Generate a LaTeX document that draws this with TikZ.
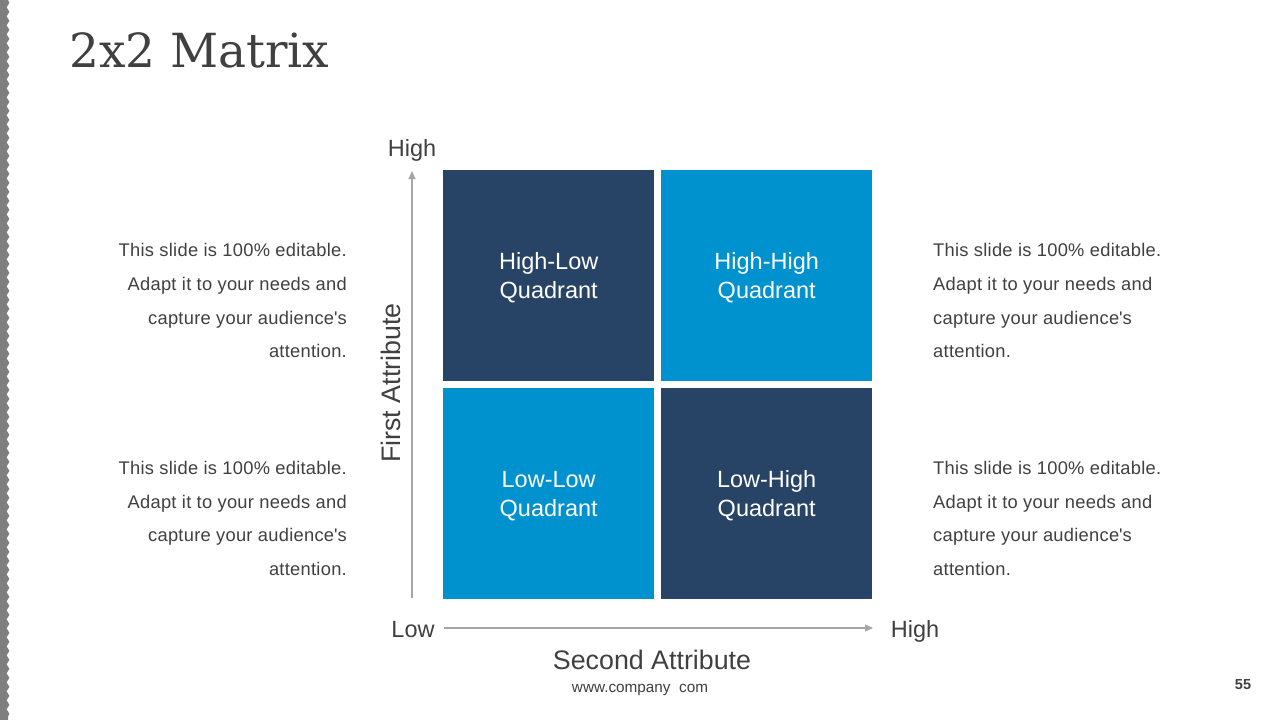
\documentclass[tikz,border=0pt]{standalone}
\usepackage{fontspec}
\setmainfont{Liberation Sans}
\newfontfamily\titlefont{DejaVu Serif}
\usetikzlibrary{arrows.meta,decorations.pathmorphing}
\definecolor{navy}{HTML}{274467}
\definecolor{qblue}{HTML}{0092CF}
\definecolor{txt}{HTML}{404040}
\definecolor{axis}{HTML}{A6A6A6}
\definecolor{strip}{HTML}{7F7F7F}
\tikzset{
  quad/.style={minimum width=211pt,minimum height=211pt,inner sep=0pt,anchor=north west},
  qlabel/.style={text=white,font=\fontsize{23.5}{29}\selectfont,align=center,yshift=-2pt},
  body/.style={text=txt,font=\fontsize{18.3}{20}\selectfont\addfontfeatures{LetterSpace=1.5},inner sep=0pt},
  axlab/.style={text=txt,font=\fontsize{23.5}{26}\selectfont,inner sep=0pt,anchor=base},
  bigaxlab/.style={text=txt,font=\fontsize{26.8}{30}\selectfont,inner sep=0pt},
  axarrow/.style={draw=axis,line width=1.1pt,-{Triangle[length=8pt,width=7pt]}}
}
\begin{document}
\begin{tikzpicture}[x=1pt,y=-1pt]
\useasboundingbox[fill=white] (0,0) rectangle (1280,720);
% left wavy strip
\fill[strip] (0,0) -- (8,0) decorate[decoration={snake,amplitude=1.4pt,segment length=9pt}]{-- (8,720)} -- (0,720) -- cycle;
% title
\node[anchor=base west,text=txt,font=\titlefont\fontsize{47}{50}\selectfont,inner sep=0pt] (title) at (69,67) {2x2 Matrix};
% quadrants
\node[quad,fill=navy] (hl) at (443,170) {};
\node[quad,fill=qblue] (hh) at (661,170) {};
\node[quad,fill=qblue] (ll) at (443,388) {};
\node[quad,fill=navy] (lh) at (661,388) {};
\node[qlabel] at (hl.center) {High-Low\\Quadrant};
\node[qlabel] at (hh.center) {High-High\\Quadrant};
\node[qlabel] at (ll.center) {Low-Low\\Quadrant};
\node[qlabel] at (lh.center) {Low-High\\Quadrant};
% axes
\coordinate (vs) at (412,598);
\coordinate (ve) at (412,171);
\coordinate (hs) at (444,628);
\coordinate (he) at (873,628);
\draw[axarrow] (vs) -- (ve);
\draw[axarrow] (hs) -- (he);
\node[axlab] (yhigh) at (412,156) {High};
\node[axlab] (xlow) at (413,637) {Low};
\node[axlab] (xhigh) at (915,637) {High};
\node[bigaxlab,rotate=90] (ylab) at (391,383) {First Attribute};
\node[bigaxlab,anchor=base] (xlab) at (652,669) {Second Attribute};
% side texts
\foreach \y/\t [count=\i] in {256.5/{This slide is 100\% editable.},290.5/{Adapt it to your needs and},324.5/{capture your audience\textquotesingle s},357.5/{attention.}}{
  \node[body,anchor=base east] (lt\i) at (347,\y) {\t};
  \node[body,anchor=base west] (rt\i) at (933,\y) {\t};
}
\foreach \y/\t [count=\i] in {474.5/{This slide is 100\% editable.},508.5/{Adapt it to your needs and},541.5/{capture your audience\textquotesingle s},575.5/{attention.}}{
  \node[body,anchor=base east] (lb\i) at (347,\y) {\t};
  \node[body,anchor=base west] (rb\i) at (933,\y) {\t};
}
% footer
\node[text=txt,font=\fontsize{15.3}{16}\selectfont,inner sep=0pt,anchor=base] (web) at (640,692) {www.company\ \ com};
\node[text=txt,font=\bfseries\fontsize{14.5}{16}\selectfont,inner sep=0pt,anchor=base] (pg) at (1243,689) {55};
\end{tikzpicture}
\end{document}
